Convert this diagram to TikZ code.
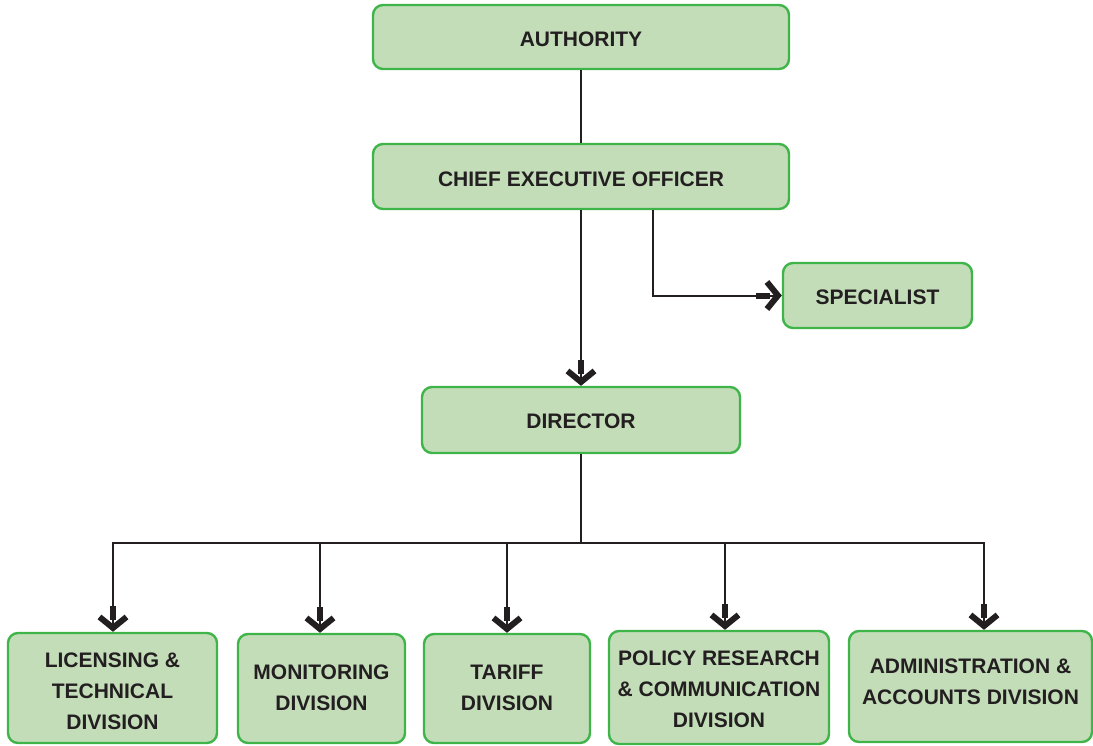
\documentclass[tikz,border=0pt]{standalone}
\usepackage{fontspec}
\setmainfont{Liberation Sans}
\usepackage{tikz}
\usetikzlibrary{arrows.meta,positioning}
\definecolor{OrgFill}{HTML}{C3DDB9}
\definecolor{OrgEdge}{HTML}{3FB549}
\definecolor{OrgInk}{HTML}{231F20}

\begin{document}
\begin{tikzpicture}[x=1pt, y=-1pt,
  unit/.style={fill=OrgFill, draw=OrgEdge, line width=2.4pt, rounded corners=10pt, inner sep=0pt},
  txt/.style={text=OrgInk, align=center, inner sep=0pt,
              font=\fontsize{21}{31}\selectfont\bfseries},
  link/.style={draw=OrgInk, line width=2pt},
  down/.style={link, -{Rectangle[length=14pt, width=6pt, sep=-6pt]
                       Straight Barb[length=11pt, width=27pt, line width=6pt]}}]
  \useasboundingbox (0,0) rectangle (1093,745);

  % top of the chart
  \node[unit, minimum width=416pt, minimum height=64pt] (auth) at (581,37) {};
  \node[txt] (auth-t) at (581,39) {AUTHORITY};
  \node[unit, minimum width=416pt, minimum height=65pt] (ceo) at (581,176.5) {};
  \node[txt] (ceo-t) at (581,179) {CHIEF EXECUTIVE OFFICER};
  \node[unit, minimum width=189pt, minimum height=65pt] (spec) at (877.5,295.5) {};
  \node[txt] (spec-t) at (877.5,297.5) {SPECIALIST};
  \node[unit, minimum width=318pt, minimum height=66pt] (dir) at (581,420) {};
  \node[txt] (dir-t) at (581,421.5) {DIRECTOR};

  \draw[link] (auth) -- (ceo);
  \draw[down] (ceo) -- (dir);
  \draw[down] ([xshift=72pt]ceo.south) |- (spec.west);

  % divisions under the director
  \coordinate (bus) at (581,543);
  \draw[link] (dir) -- (bus);
  \foreach \nm/\lbl/\x/\y/\w/\h/\dx/\dy in {%
      lic/{LICENSING \&\\TECHNICAL\\DIVISION}/112.5/688/209/110/0.5/3.5,
      mon/{MONITORING\\DIVISION}/321.5/688.5/167/109/-1.5/-1,
      tar/{TARIFF\\DIVISION}/507/688.5/166/109/0/-1,
      pol/{POLICY RESEARCH\\\& COMMUNICATION\\DIVISION}/719/687.5/220/113/6/1.5,
      adm/{ADMINISTRATION \&\\ACCOUNTS DIVISION}/970.5/686.5/243/111/13.5/-5}{
    \node[unit, minimum width=\w pt, minimum height=\h pt] (\nm) at (\x,\y) {};
    \node[txt] (\nm-t) at (\x,\y+\dy) {\lbl};
    \draw[down] (bus) -| ([xshift=\dx pt]\nm.north);
  }
\end{tikzpicture}
\end{document}
